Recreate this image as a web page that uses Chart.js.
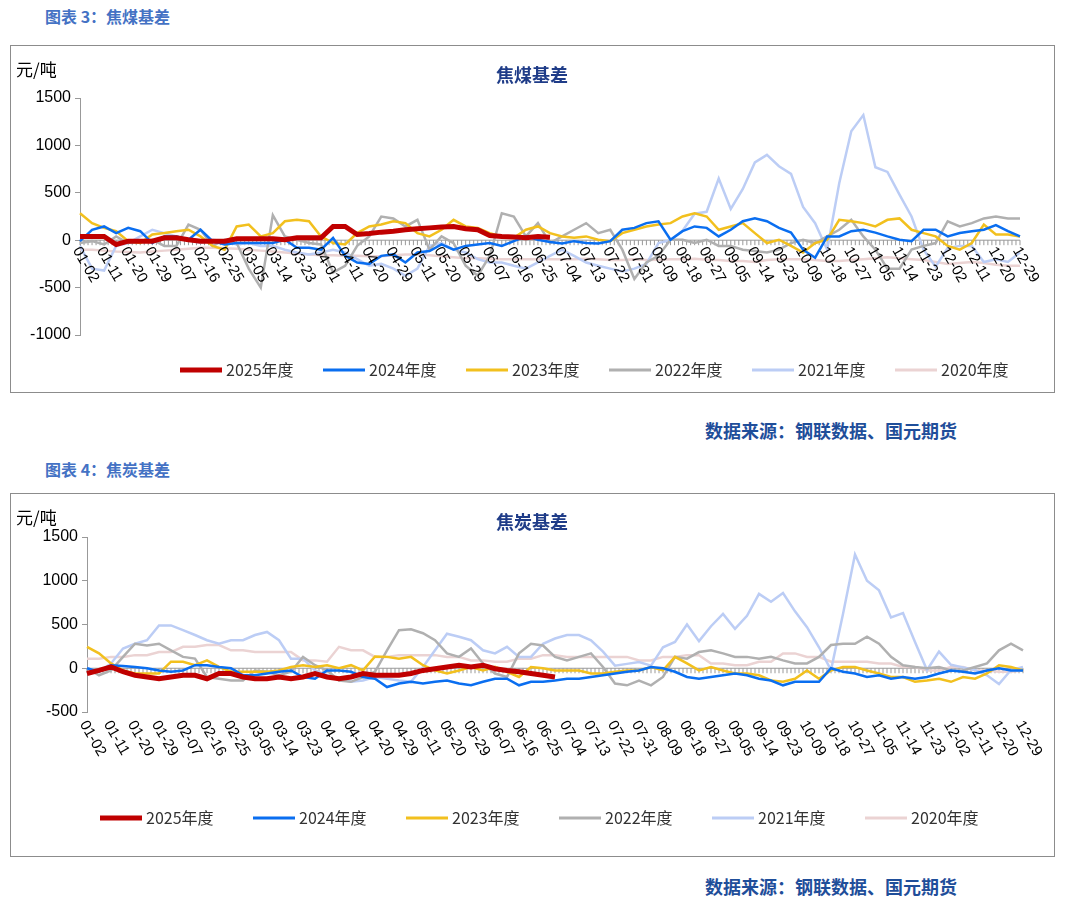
<!DOCTYPE html>
<html>
<head>
<meta charset="utf-8">
<script src="https://cdn.jsdelivr.net/npm/chart.js@4.4.0/dist/chart.umd.min.js"></script>
<style>
  body { margin: 0; background: #fff; width: 1080px; height: 908px; position: relative; font-family: "Noto Sans CJK SC", sans-serif; }
  .head { position: absolute; left: 45px; font-size: 16px; font-weight: bold; color: #4472C4; }
  .src { position: absolute; left: 705px; font-size: 18px; font-weight: bold; color: #1F4E9A; }
  .box { position: absolute; left: 10px; width: 1043px; border: 1px solid #8c8c8c; }
  .box canvas { display: block; }
</style>
</head>
<body>
<div class="head" style="top:4px">图表 3：焦煤基差</div>
<div class="box" style="top:45px;height:346px"><canvas id="coalChart" width="1043" height="346"></canvas></div>
<div class="src" style="top:417px">数据来源：钢联数据、国元期货</div>
<div class="head" style="top:457px">图表 4：焦炭基差</div>
<div class="box" style="top:493px;height:362px"><canvas id="cokeChart" width="1043" height="362"></canvas></div>
<div class="src" style="top:873px">数据来源：钢联数据、国元期货</div>
<script>
// tick labels (every other point carries one)
const tickLabels = ['01-02','01-11','01-20','01-29','02-07','02-16','02-25','03-05','03-14','03-23',
  '04-01','04-11','04-20','04-29','05-11','05-20','05-29','06-07','06-16','06-25',
  '07-04','07-13','07-22','07-31','08-09','08-18','08-27','09-05','09-14','09-23',
  '10-09','10-18','10-27','11-05','11-14','11-23','12-02','12-11','12-20','12-29'];
const seriesNames = ['2025年度','2024年度','2023年度','2022年度','2021年度','2020年度'];

// 焦煤基差
const coal2025 = [40,40,40,-45,-10,-10,-10,25,25,5,-10,-10,-10,15,15,15,15,5,25,25,25,145,145,60,70,85,95,110,120,130,140,145,120,110,50,40,35,25,40,30];
const coal2024 = [-10,110,145,75,130,95,-30,40,40,5,110,-10,-45,-30,-30,-30,-30,5,-80,-80,-100,25,-165,-235,-250,-165,-150,-235,-130,-115,-45,-100,-60,-45,-30,-60,-10,40,5,-20,
  -35,-10,-30,-35,-10,110,130,180,200,5,95,145,130,40,110,200,230,200,130,80,-100,-185,40,40,95,110,80,40,5,-10,110,110,40,75,95,110,160,95,40];
const coal2023 = [285,180,130,95,-10,-30,60,75,95,110,40,-60,-100,145,165,40,75,200,215,200,40,-30,-45,75,145,165,200,180,75,40,110,215,145,130,75,40,25,110,145,75,
  40,25,40,5,-10,75,110,145,165,180,250,285,250,110,145,180,75,-30,5,-60,-130,-30,5,215,200,180,145,215,230,110,75,40,-60,-100,-30,165,60,60,40];
const coal2022 = [-30,-10,-45,40,-30,-10,5,-60,-60,165,110,-60,5,-30,-300,-500,265,40,5,-30,-45,-340,-270,-60,40,250,230,145,215,-100,40,-30,-270,-375,-165,285,250,40,180,-30,
  40,110,180,75,110,-100,-410,-235,-165,5,5,-30,5,-60,-60,-100,-115,-130,-100,-30,5,-30,40,110,215,40,-100,-300,-300,-100,-60,-30,200,145,180,230,250,230,230];
const coal2021 = [-60,-300,-320,-60,-30,40,110,75,40,5,-30,5,-10,-45,-30,-60,-60,-100,-130,-150,-130,-100,-130,-200,-270,-250,-300,-375,-300,-60,-30,-100,-130,-200,-235,-235,-270,-300,-235,-165,
  -100,-165,-235,-270,-300,-330,-300,-250,-30,0,100,280,300,650,330,540,820,900,780,700,350,180,-100,600,1150,1320,770,720,480,250,-100,-280,-80,-60,-60,-230,-200,-230,-130];
const coal2020 = [-100,-100,-110,-120,-125,-130,-120,-110,-100,-90,-80,-80,-85,-90,-100,-110,-120,-130,-140,-150,-160,-160,-165,-165,-170,-170,-160,-150,-150,-160,-170,-180,-190,-190,-195,-200,-200,-200,-200,-200,
  -200,-200,-195,-200,-210,-210,-200,-210,-205,-200,-200,-195,-205,-210,-220,-220,-230,-210,-200,-200,-200,-210,-220,-220,-210,-200,-190,-180,-190,-200,-210,-230,-250,-240,-230,-240,-260,-270,-270];

// 焦炭基差
const coke2025 = [-60,-25,15,-40,-80,-100,-120,-100,-80,-80,-120,-60,-60,-100,-120,-120,-100,-120,-100,-60,-100,-120,-100,-60,-80,-80,-80,-60,-25,-5,15,35,15,35,-5,-25,-40,-60,-80,-100];
const coke2024 = [0,-40,35,25,15,0,-25,-40,-25,35,35,15,0,-80,-80,-60,-40,-25,-100,-120,-25,-25,-40,-100,-120,-215,-175,-155,-175,-155,-140,-175,-195,-155,-120,-120,-195,-155,-155,-140,
  -120,-120,-100,-80,-60,-40,-25,15,0,-40,-100,-120,-100,-80,-60,-80,-120,-140,-195,-155,-155,-155,0,-40,-60,-100,-80,-120,-100,-120,-100,-60,-25,-40,-60,-25,0,-25,-25];
const coke2023 = [245,170,55,-25,-60,-60,-60,75,75,35,90,15,-40,-40,-40,-40,-25,15,35,15,35,0,35,-25,135,130,110,130,35,-25,-60,-25,15,-25,15,-40,-100,15,0,-25,
  -25,-25,-60,-60,-40,-25,-25,15,-25,130,55,-25,15,-25,-60,-60,-80,-140,-155,-120,-25,-120,-25,15,15,-25,-60,-100,-100,-155,-140,-120,-155,-100,-120,-60,35,15,-25];
const coke2022 = [0,-80,-25,130,280,260,280,205,130,110,-100,-120,-140,-140,-25,-40,-80,-40,130,35,-25,-140,-155,-100,-40,205,435,445,400,320,170,130,225,55,-60,-100,170,280,260,130,
  90,130,170,15,-175,-195,-140,-195,-100,130,110,185,205,170,130,130,110,130,90,55,55,130,265,280,280,360,280,130,35,15,0,15,-25,-25,15,55,205,280,205];
const coke2021 = [0,-40,55,225,280,320,490,490,435,380,320,280,320,320,380,415,320,110,110,-25,-80,-120,-155,-140,-100,-120,-140,-155,15,205,395,360,320,205,170,245,130,130,280,
  340,380,380,320,190,30,50,70,30,240,300,500,310,480,620,450,600,850,760,860,650,470,240,-20,620,1300,1000,890,580,630,300,-20,190,40,10,-20,-80,-180,-20,15];
const coke2020 = [110,110,130,130,150,150,185,185,245,245,265,265,205,205,185,185,185,185,90,90,75,245,205,205,130,130,150,150,150,150,130,130,90,90,75,75,110,110,150,150,130,
  130,130,130,130,130,90,90,130,130,150,150,55,55,35,35,75,75,170,170,130,130,75,75,75,75,55,55,15,15,-25,-25,15,15,-25,-25,-40,-40,-25];

const colors = ['#C00000', '#0A6EF0', '#F2C01E', '#B0B0B0', '#BCCDF5', '#EBD3D3'];
const widths = [5, 2.5, 2.5, 2.5, 2.5, 2.5];

// categories: one labelled point, then one in between
const categories = [];
tickLabels.forEach((t, i) => {
    categories.push(t);
    if (i < tickLabels.length - 1) categories.push('');
});

function makeDatasets(list) {
    return list.map((data, i) => ({
        label: seriesNames[i],
        data: data,
        borderColor: colors[i],
        backgroundColor: colors[i],
        borderWidth: widths[i],
        pointRadius: 0,
        tension: 0,
        fill: false
    }));
}

// x axis at zero, dense ticks, rotated labels, title, unit, legend
const decorPlugin = {
    id: 'decor',
    beforeDatasetsDraw(chart, args, opts) {
        const ctx = chart.ctx, x = chart.scales.x, y = chart.scales.y;
        const y0 = y.getPixelForValue(0);
        const step = (x.getPixelForValue(1) - x.getPixelForValue(0)) / 3;
        ctx.save();
        ctx.strokeStyle = '#999';
        ctx.lineWidth = 1;
        ctx.beginPath();
        ctx.moveTo(chart.chartArea.left, y0);
        ctx.lineTo(chart.chartArea.right, y0);
        for (let i = 0; i < categories.length; i++) {
            const px = x.getPixelForValue(i);
            for (let k = 0; k < 3; k++) {
                const sx = px + k * step;
                if (sx > chart.chartArea.right + 0.5) break;
                ctx.moveTo(sx, y0);
                ctx.lineTo(sx, y0 + 5);
            }
        }
        ctx.stroke();
        ctx.restore();
    },
    afterDraw(chart, args, opts) {
        const ctx = chart.ctx, x = chart.scales.x, y = chart.scales.y;
        const labelY = opts.labelsAtZero ? y.getPixelForValue(0) + 8 : chart.chartArea.bottom + 10;
        ctx.save();
        ctx.fillStyle = '#000';
        ctx.font = '15px "Liberation Sans", Arial, sans-serif';
        ctx.textAlign = 'left';
        ctx.textBaseline = 'middle';
        categories.forEach((c, i) => {
            if (!c) return;
            ctx.save();
            ctx.translate(x.getPixelForValue(i) - 4, labelY);
            ctx.rotate(Math.PI / 3);
            ctx.fillText(c, 0, 0);
            ctx.restore();
        });
        // unit and title
        ctx.font = '17px "Noto Sans CJK SC", sans-serif';
        ctx.fillText('元/吨', 5, opts.unitY);
        ctx.font = 'bold 18px "Noto Sans CJK SC", sans-serif';
        ctx.fillStyle = '#1F3C88';
        ctx.textAlign = 'center';
        ctx.fillText(opts.title, 521, opts.titleY);
        // legend
        ctx.font = '16px "Noto Sans CJK SC", sans-serif';
        ctx.textAlign = 'left';
        ctx.fillStyle = '#333';
        chart.data.datasets.forEach((ds, i) => {
            const lx = opts.legendX + i * opts.legendStep;
            ctx.strokeStyle = ds.borderColor;
            ctx.lineWidth = i === 0 ? 5 : 3;
            ctx.beginPath();
            ctx.moveTo(lx, opts.legendY);
            ctx.lineTo(lx + 42, opts.legendY);
            ctx.stroke();
            ctx.fillText(ds.label, lx + 46, opts.legendY);
        });
        ctx.restore();
    }
};

function buildChart(id, data, cfg) {
    const ctx = document.getElementById(id).getContext('2d');
    return new Chart(ctx, {
        type: 'line',
        data: { labels: categories, datasets: makeDatasets(data) },
        plugins: [decorPlugin],
        options: {
            responsive: false,
            animation: false,
            layout: { padding: { top: cfg.top, bottom: cfg.bottom, right: cfg.right, left: 0 } },
            plugins: {
                legend: { display: false },
                tooltip: { enabled: false },
                decor: cfg.decor
            },
            scales: {
                x: { display: false },
                y: {
                    min: cfg.min, max: 1500,
                    afterFit: scale => { scale.width = cfg.axisWidth; },
                    ticks: { stepSize: 500, color: '#000', font: { size: 16, family: '"Liberation Sans", Arial, sans-serif' }, padding: 4,
                        callback: v => String(v) },
                    grid: { drawOnChartArea: false, drawTicks: true, tickLength: 5, color: '#999' },
                    border: { color: '#999' }
                }
            }
        }
    });
}

buildChart('coalChart', [coal2025, coal2024, coal2023, coal2022, coal2021, coal2020], {
    top: 52, bottom: 57, right: 34, axisWidth: 69, min: -1000,
    decor: { labelsAtZero: true, title: '焦煤基差', titleY: 29, unitY: 24, legendX: 169, legendStep: 143, legendY: 324 }
});
buildChart('cokeChart', [coke2025, coke2024, coke2023, coke2022, coke2021, coke2020], {
    top: 43, bottom: 144, right: 31, axisWidth: 76, min: -500,
    decor: { labelsAtZero: false, title: '焦炭基差', titleY: 28, unitY: 24, legendX: 89, legendStep: 153, legendY: 324 }
});
</script>
</body>
</html>
